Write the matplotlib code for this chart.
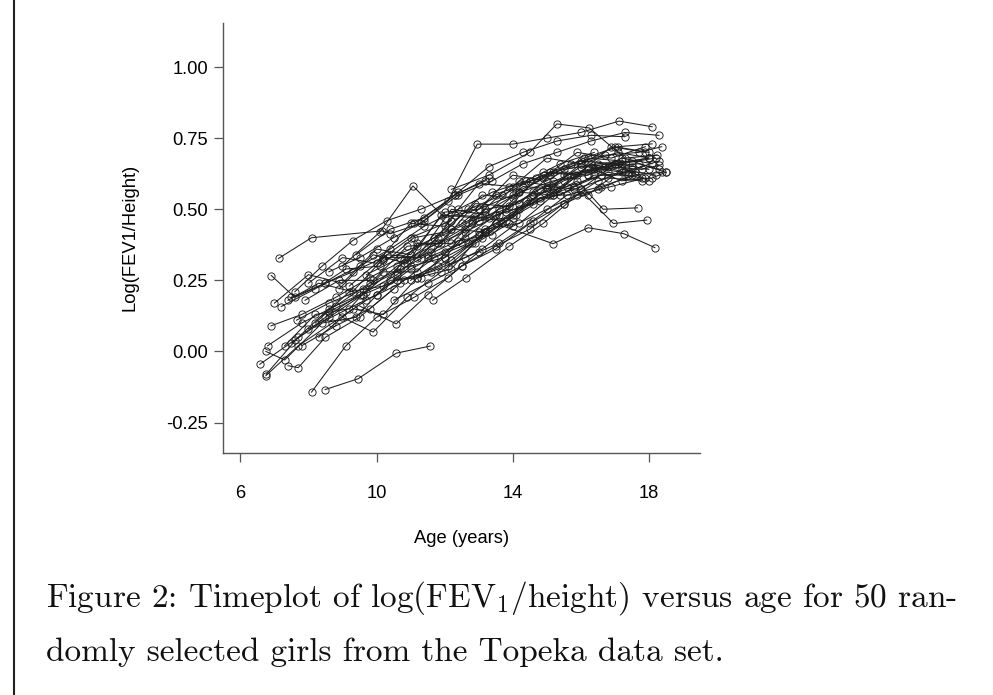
import matplotlib
matplotlib.use("Agg")
import matplotlib.pyplot as plt
from matplotlib.lines import Line2D

plt.rcParams['mathtext.fontset'] = 'cm'

# ---------------- data ----------------
x_ticks = [6, 10, 14, 18]
x_tick_labels = ["6", "10", "14", "18"]
y_ticks = [-0.25, 0.0, 0.25, 0.50, 0.75, 1.00]
y_tick_labels = ["-0.25", "0.00", "0.25", "0.50", "0.75", "1.00"]
x_label = "Age (years)"
y_label = "Log(FEV1/Height)"
caption_line1 = r"Figure 2: Timeplot of log(FEV$_1$/height) versus age for 50 ran-"
caption_line2 = "domly selected girls from the Topeka data set."

girl_01_age = [8.49, 9.46, 10.58, 11.58]
girl_01_lfh = [-0.134, -0.096, -0.006, 0.019]
girl_02_age = [8.09, 9.1, 10.0, 11.1, 12.1, 13.0]
girl_02_lfh = [-0.143, 0.02, 0.12, 0.19, 0.26, 0.35]
girl_03_age = [7.12, 8.09, 10.16, 10.4, 11.3, 12.3, 13.2]
girl_03_lfh = [0.327, 0.40, 0.424, 0.414, 0.45, 0.55, 0.60]
girl_04_age = [6.91, 7.6, 8.5, 9.3, 10.2, 11.0, 12.2]
girl_04_lfh = [0.267, 0.19, 0.24, 0.28, 0.33, 0.40, 0.46]
girl_05_age = [13.5, 15.19, 16.22, 17.27, 18.18]
girl_05_lfh = [0.45, 0.379, 0.435, 0.414, 0.365]
girl_06_age = [11.1, 12.1, 12.96, 14.0, 15.0, 16.0, 17.13, 18.1]
girl_06_lfh = [0.45, 0.53, 0.729, 0.729, 0.75, 0.77, 0.81, 0.79]
girl_07_age = [12.2, 13.3, 14.5, 15.3, 16.25, 17.3, 18.25]
girl_07_lfh = [0.57, 0.62, 0.70, 0.80, 0.786, 0.68, 0.69]
girl_08_age = [12.1, 13.1, 14.0, 15.0, 16.05, 16.96, 17.94]
girl_08_lfh = [0.30, 0.36, 0.44, 0.50, 0.56, 0.45, 0.462]
girl_09_age = [11.0, 12.0, 13.1, 14.1, 15.1, 15.9, 16.66, 17.67]
girl_09_lfh = [0.25, 0.33, 0.40, 0.48, 0.55, 0.60, 0.50, 0.505]
girl_10_age = [9.0, 10.1, 11.07, 12.0, 13.0, 14.0]
girl_10_lfh = [0.30, 0.42, 0.582, 0.47, 0.50, 0.55]
girl_11_age = [6.57, 7.6, 8.6, 9.6, 10.6, 11.6, 12.6, 13.6, 14.6, 15.6, 16.6, 17.6]
girl_11_lfh = [-0.045, 0.04, 0.12, 0.20, 0.30, 0.35, 0.43, 0.50, 0.55, 0.58, 0.62, 0.63]
girl_12_age = [6.75, 7.7, 8.7, 9.7, 10.7, 11.7, 12.7, 13.7]
girl_12_lfh = [-0.085, 0.02, 0.10, 0.18, 0.24, 0.33, 0.38, 0.45]
girl_13_age = [6.75, 7.3, 8.4, 9.4, 10.4, 11.3, 12.4, 13.4, 14.4, 15.4, 16.4, 17.4]
girl_13_lfh = [0.0, -0.03, 0.10, 0.12, 0.25, 0.26, 0.39, 0.41, 0.53, 0.55, 0.62, 0.62]
girl_14_age = [6.76, 7.7, 8.6, 9.7, 10.6, 11.6, 12.6, 13.6, 14.6, 15.6, 16.7, 17.7, 18.3]
girl_14_lfh = [-0.08, 0.05, 0.15, 0.21, 0.27, 0.37, 0.42, 0.48, 0.56, 0.62, 0.65, 0.66, 0.64]
girl_15_age = [7.4, 7.7, 8.5, 9.5, 10.5]
girl_15_lfh = [-0.05, -0.057, 0.05, 0.12, 0.22]
girl_16_age = [7.2, 8.2, 9.1, 10.1, 11.1, 12.0, 13.1, 14.0, 15.1, 16.0, 17.1, 18.0]
girl_16_lfh = [0.158, 0.22, 0.29, 0.30, 0.40, 0.42, 0.55, 0.54, 0.63, 0.66, 0.70, 0.68]
girl_17_age = [7.65, 8.6, 9.6, 10.6, 11.5, 12.6, 13.5, 14.6]
girl_17_lfh = [0.11, 0.17, 0.22, 0.28, 0.34, 0.40, 0.48, 0.52]
girl_18_age = [7.4, 8.3, 9.3, 10.3, 11.3, 12.3, 13.3, 14.3, 15.3, 16.3, 17.3, 18.3]
girl_18_lfh = [0.18, 0.24, 0.21, 0.34, 0.33, 0.48, 0.47, 0.58, 0.57, 0.66, 0.63, 0.67]
girl_19_age = [7.5, 8.5, 9.5, 10.4, 11.4, 12.4, 13.4, 14.4, 15.4, 16.4]
girl_19_lfh = [0.19, 0.24, 0.30, 0.36, 0.44, 0.50, 0.56, 0.60, 0.66, 0.70]
girl_20_age = [7.8, 8.8, 9.8, 10.8, 11.8, 12.8, 13.8, 14.8, 15.8, 16.8, 17.8]
girl_20_lfh = [0.02, 0.09, 0.15, 0.25, 0.30, 0.38, 0.46, 0.54, 0.58, 0.63, 0.61]
girl_21_age = [8.0, 9.0, 10.0, 11.0, 12.0, 13.0, 14.0, 15.0, 16.0, 17.0, 18.0]
girl_21_lfh = [0.24, 0.33, 0.31, 0.45, 0.44, 0.59, 0.58, 0.68, 0.66, 0.72, 0.70]
girl_22_age = [8.3, 9.3, 10.2, 11.2, 12.2, 13.2, 14.2, 15.2, 16.2, 17.2, 18.2]
girl_22_lfh = [0.05, 0.15, 0.13, 0.26, 0.29, 0.43, 0.45, 0.55, 0.55, 0.64, 0.62]
girl_23_age = [8.6, 9.6, 10.6, 11.6, 12.6, 13.6, 14.6, 15.6, 16.6, 17.6]
girl_23_lfh = [0.14, 0.20, 0.25, 0.28, 0.33, 0.38, 0.46, 0.55, 0.58, 0.62]
girl_24_age = [8.9, 9.9, 10.9, 11.9, 12.9, 13.9, 14.9, 15.9, 16.9, 17.9]
girl_24_lfh = [0.22, 0.34, 0.31, 0.48, 0.47, 0.58, 0.61, 0.70, 0.68, 0.72]
girl_25_age = [9.0, 9.9, 10.9, 11.9, 12.9, 13.9]
girl_25_lfh = [0.12, 0.068, 0.19, 0.28, 0.38, 0.45]
girl_26_age = [9.5, 10.58, 11.5, 12.5, 13.5, 14.5, 15.5, 16.5, 17.5]
girl_26_lfh = [0.16, 0.097, 0.20, 0.30, 0.36, 0.45, 0.52, 0.60, 0.64]
girl_27_age = [7.6, 8.4, 9.3, 10.3, 11.3, 12.3, 13.3]
girl_27_lfh = [0.21, 0.30, 0.39, 0.46, 0.50, 0.55, 0.61]
girl_28_age = [8.6, 9.5, 10.5, 11.4, 12.4, 13.4, 14.3, 15.3, 16.3, 17.3, 18.3]
girl_28_lfh = [0.28, 0.33, 0.40, 0.46, 0.55, 0.60, 0.66, 0.70, 0.74, 0.77, 0.76]
girl_29_age = [9.4, 10.4, 11.4, 12.4, 13.3, 14.3, 15.3, 16.3, 17.3]
girl_29_lfh = [0.34, 0.43, 0.47, 0.56, 0.65, 0.70, 0.74, 0.76, 0.755]
girl_30_age = [10.0, 11.0, 12.0, 13.0, 14.0, 15.0, 16.0, 17.0, 18.0]
girl_30_lfh = [0.20, 0.30, 0.33, 0.46, 0.47, 0.58, 0.57, 0.66, 0.60]
girl_31_age = [10.5, 11.5, 12.5, 13.5, 14.5, 15.5, 16.5, 17.5, 18.4]
girl_31_lfh = [0.18, 0.24, 0.30, 0.37, 0.43, 0.52, 0.57, 0.62, 0.63]
girl_32_age = [11.2, 12.2, 13.2, 14.2, 15.2, 16.2, 17.2, 18.2]
girl_32_lfh = [0.26, 0.32, 0.42, 0.50, 0.56, 0.64, 0.66, 0.68]
girl_33_age = [11.65, 12.63, 13.9, 14.9, 15.9, 16.9, 17.9]
girl_33_lfh = [0.18, 0.26, 0.37, 0.45, 0.55, 0.58, 0.61]
girl_34_age = [6.9, 7.8, 8.8, 9.8, 10.8, 11.8, 12.8, 13.8, 14.8, 15.8, 16.8, 17.8]
girl_34_lfh = [0.09, 0.13, 0.19, 0.26, 0.32, 0.38, 0.45, 0.49, 0.53, 0.57, 0.61, 0.60]
girl_35_age = [7.3, 8.2, 9.2, 10.2, 11.2, 12.2, 13.2, 14.2, 15.2, 16.2, 17.2]
girl_35_lfh = [0.02, 0.13, 0.15, 0.28, 0.28, 0.43, 0.42, 0.56, 0.55, 0.65, 0.63]
girl_36_age = [7.0, 8.0, 9.0, 10.0, 11.0, 12.0, 13.0, 14.0, 15.0, 16.0, 17.0, 18.0]
girl_36_lfh = [0.17, 0.27, 0.24, 0.36, 0.34, 0.49, 0.50, 0.62, 0.60, 0.67, 0.66, 0.68]
girl_37_age = [8.2, 9.2, 10.2, 11.2, 12.2, 13.2, 14.2, 15.2, 16.2, 17.2, 18.1]
girl_37_lfh = [0.10, 0.21, 0.23, 0.38, 0.38, 0.50, 0.52, 0.63, 0.62, 0.68, 0.66]
girl_38_age = [9.2, 10.2, 11.2, 12.2, 13.2, 14.2, 15.2, 16.2, 17.2]
girl_38_lfh = [0.23, 0.33, 0.33, 0.50, 0.48, 0.60, 0.58, 0.68, 0.67]
girl_39_age = [10.2, 11.2, 12.2, 13.2, 14.2, 15.2, 16.2, 17.1, 18.0]
girl_39_lfh = [0.32, 0.37, 0.43, 0.49, 0.56, 0.60, 0.62, 0.66, 0.64]
girl_40_age = [13.0, 14.0, 15.0, 16.0, 17.0, 18.0]
girl_40_lfh = [0.42, 0.48, 0.57, 0.65, 0.66, 0.68]
girl_41_age = [7.5, 8.5, 9.5]
girl_41_lfh = [0.03, 0.12, 0.20]
girl_42_age = [6.8, 7.8, 8.8, 9.8, 10.7]
girl_42_lfh = [0.02, 0.10, 0.16, 0.24, 0.29]
girl_43_age = [14.1, 15.1, 16.1, 17.1, 18.1]
girl_43_lfh = [0.56, 0.62, 0.68, 0.72, 0.73]
girl_44_age = [12.5, 13.5, 14.5, 15.5, 16.5, 17.5, 18.5]
girl_44_lfh = [0.45, 0.55, 0.60, 0.64, 0.66, 0.67, 0.63]
girl_45_age = [11.5, 12.5, 13.5, 14.5, 15.5, 16.5, 17.5]
girl_45_lfh = [0.33, 0.38, 0.45, 0.53, 0.60, 0.64, 0.65]
girl_46_age = [9.7, 10.7, 11.7, 12.7, 13.7, 14.7, 15.7, 16.7, 17.7, 18.38]
girl_46_lfh = [0.27, 0.33, 0.40, 0.50, 0.55, 0.61, 0.66, 0.69, 0.70, 0.72]
girl_47_age = [10.8, 11.8, 12.8, 13.8, 14.8, 15.8, 16.8, 17.8, 18.3]
girl_47_lfh = [0.31, 0.40, 0.46, 0.50, 0.57, 0.62, 0.65, 0.64, 0.655]
girl_48_age = [8.0, 9.0, 10.0, 11.0, 12.0, 13.0]
girl_48_lfh = [0.08, 0.14, 0.20, 0.29, 0.35, 0.41]
girl_49_age = [7.9, 8.9, 9.9, 10.9, 11.9, 12.9, 13.9, 14.9, 15.9, 16.9, 17.9]
girl_49_lfh = [0.18, 0.25, 0.25, 0.37, 0.38, 0.52, 0.51, 0.63, 0.62, 0.72, 0.70]
girl_50_age = [15.5, 16.4, 17.2, 18.1, 18.5]
girl_50_lfh = [0.62, 0.64, 0.60, 0.61, 0.63]

girls = [
    (girl_01_age, girl_01_lfh), (girl_02_age, girl_02_lfh), (girl_03_age, girl_03_lfh),
    (girl_04_age, girl_04_lfh), (girl_05_age, girl_05_lfh), (girl_06_age, girl_06_lfh),
    (girl_07_age, girl_07_lfh), (girl_08_age, girl_08_lfh), (girl_09_age, girl_09_lfh),
    (girl_10_age, girl_10_lfh), (girl_11_age, girl_11_lfh), (girl_12_age, girl_12_lfh),
    (girl_13_age, girl_13_lfh), (girl_14_age, girl_14_lfh), (girl_15_age, girl_15_lfh),
    (girl_16_age, girl_16_lfh), (girl_17_age, girl_17_lfh), (girl_18_age, girl_18_lfh),
    (girl_19_age, girl_19_lfh), (girl_20_age, girl_20_lfh), (girl_21_age, girl_21_lfh),
    (girl_22_age, girl_22_lfh), (girl_23_age, girl_23_lfh), (girl_24_age, girl_24_lfh),
    (girl_25_age, girl_25_lfh), (girl_26_age, girl_26_lfh), (girl_27_age, girl_27_lfh),
    (girl_28_age, girl_28_lfh), (girl_29_age, girl_29_lfh), (girl_30_age, girl_30_lfh),
    (girl_31_age, girl_31_lfh), (girl_32_age, girl_32_lfh), (girl_33_age, girl_33_lfh),
    (girl_34_age, girl_34_lfh), (girl_35_age, girl_35_lfh), (girl_36_age, girl_36_lfh),
    (girl_37_age, girl_37_lfh), (girl_38_age, girl_38_lfh), (girl_39_age, girl_39_lfh),
    (girl_40_age, girl_40_lfh), (girl_41_age, girl_41_lfh), (girl_42_age, girl_42_lfh),
    (girl_43_age, girl_43_lfh), (girl_44_age, girl_44_lfh), (girl_45_age, girl_45_lfh),
    (girl_46_age, girl_46_lfh), (girl_47_age, girl_47_lfh), (girl_48_age, girl_48_lfh),
    (girl_49_age, girl_49_lfh), (girl_50_age, girl_50_lfh),
]

# ---------------- figure ----------------
W, H, DPI = 993, 695, 100
fig = plt.figure(figsize=(W / DPI, H / DPI), dpi=DPI)
fig.patch.set_facecolor("white")

ax = fig.add_axes([222.7 / W, 1 - 452.7 / H, 477.8 / W, 430.0 / H])
for a, v in girls:
    ax.plot(a, v, color="#1e1e1e", linewidth=0.75, marker="o", markersize=5.2,
            markerfacecolor="none", markeredgecolor="#1e1e1e", markeredgewidth=0.65)

ax.set_xlim(5.48, 19.52)
ax.set_ylim(-0.356, 1.156)
ax.spines["top"].set_visible(False)
ax.spines["right"].set_visible(False)
for s in ("left", "bottom"):
    ax.spines[s].set_color("#555555")
    ax.spines[s].set_linewidth(1.0)

sans = "Liberation Sans"
fs = 13.2
ax.set_xticks(x_ticks)
ax.set_xticklabels(x_tick_labels, fontfamily=sans, fontsize=fs)
ax.set_yticks(y_ticks)
ax.set_yticklabels(y_tick_labels, fontfamily=sans, fontsize=fs)
ax.tick_params(axis="both", direction="out", length=6.5, width=0.9, color="#555555")
ax.tick_params(axis="y", pad=4.0)
ax.tick_params(axis="x", pad=17)

ax.set_xlabel(x_label, fontfamily=sans, fontsize=fs, labelpad=20)
ax.set_ylabel(y_label, fontfamily=sans, fontsize=fs, labelpad=20)

# page frame line on the left
fig.add_artist(Line2D([13.5 / W, 13.5 / W], [0, 1], transform=fig.transFigure,
                      color="#222222", linewidth=1.5))

# caption
fig.text(46 / W, 1 - 607 / H, caption_line1, fontfamily="cmr10", fontsize=24,
         ha="left", va="baseline", color="#111111")
fig.text(46 / W, 1 - 661 / H, caption_line2, fontfamily="cmr10", fontsize=24,
         ha="left", va="baseline", color="#111111")

fig.savefig("out.png", dpi=DPI, facecolor="white")
